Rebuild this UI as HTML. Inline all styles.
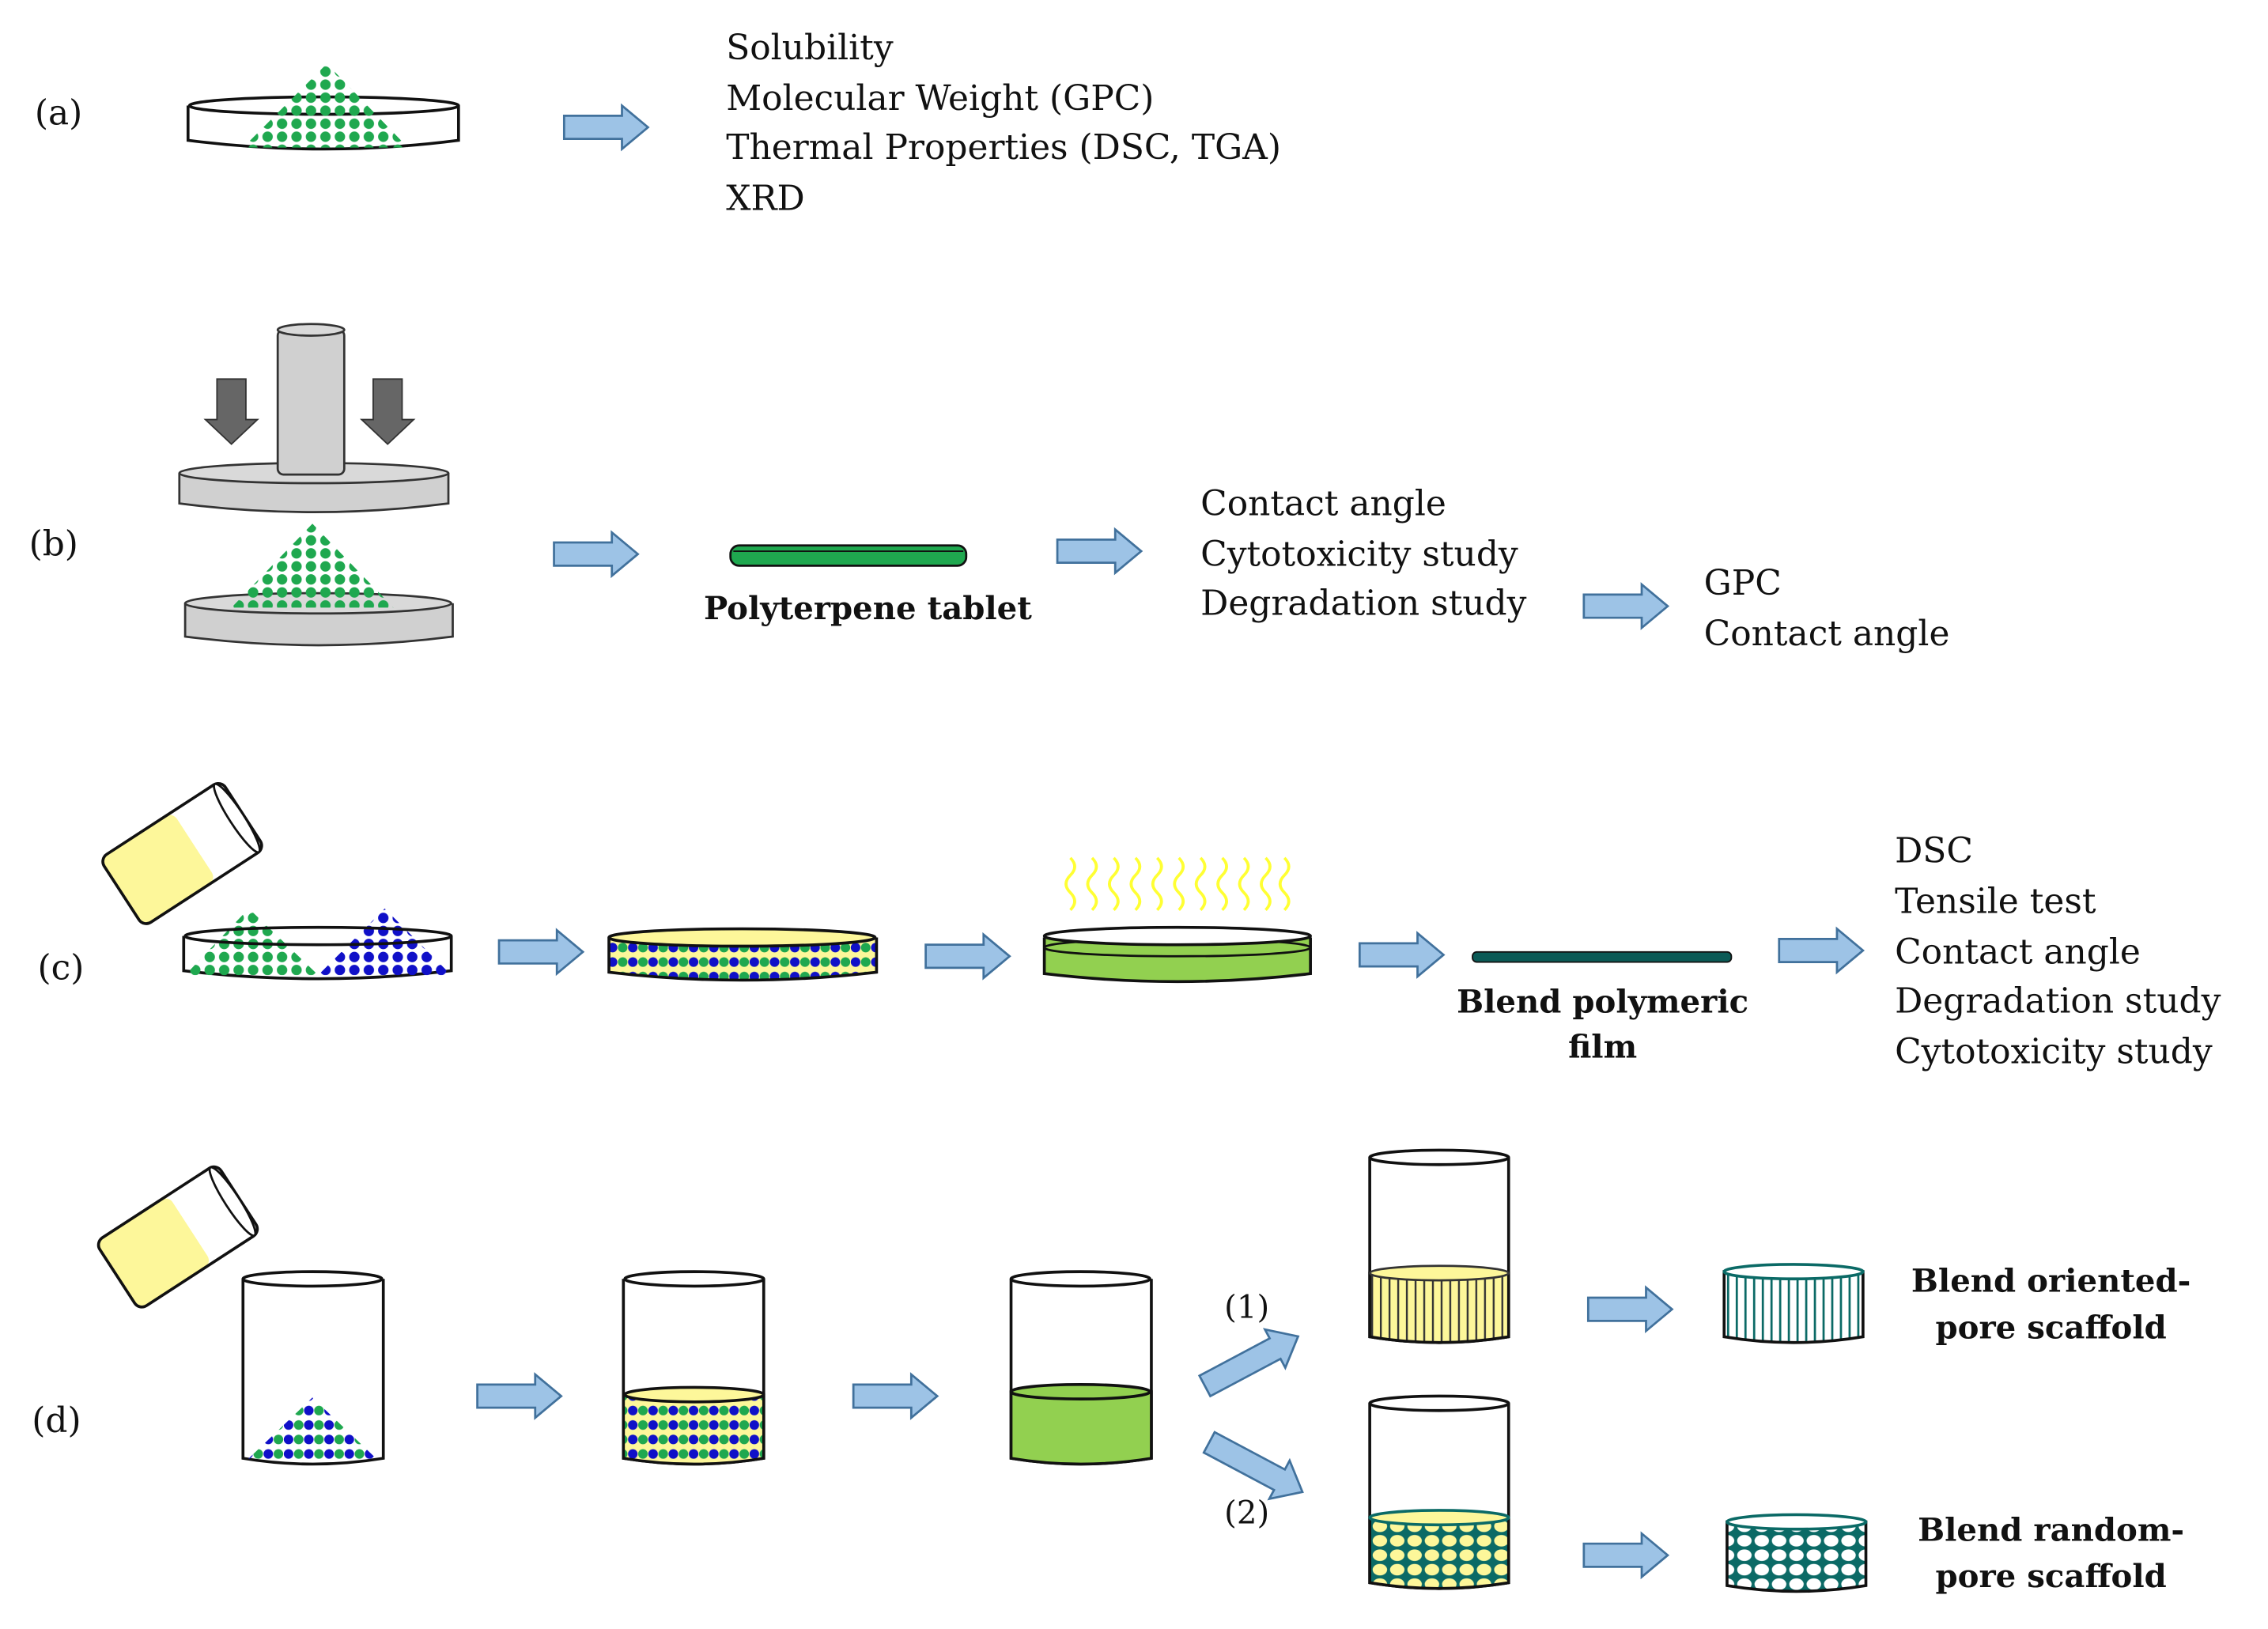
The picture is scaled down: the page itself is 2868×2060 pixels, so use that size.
<!DOCTYPE html>
<html><head><meta charset="utf-8"><style>
html,body{margin:0;padding:0;background:#fff}
svg{display:block}
text{font-family:"DejaVu Serif","Liberation Serif",serif;fill:#111}
.t{font-size:24px}
.b{font-size:22px;font-weight:bold}
.n{font-size:22px}
</style></head><body>
<svg width="2868" height="2060" viewBox="0 0 1568 1126" preserveAspectRatio="none" xmlns="http://www.w3.org/2000/svg">
<defs>
<pattern id="gd" width="10" height="9" patternUnits="userSpaceOnUse"><circle cx="5" cy="4.5" r="3.6" fill="#1fa84f"/></pattern>
<pattern id="bd" width="10" height="9" patternUnits="userSpaceOnUse"><circle cx="5" cy="4.5" r="3.6" fill="#1010c8"/></pattern>
<pattern id="mix" width="14" height="10" patternUnits="userSpaceOnUse"><rect width="14" height="10" fill="#fdf79a"/><circle cx="3.5" cy="5" r="3.3" fill="#1010c8"/><circle cx="10.5" cy="5" r="3.3" fill="#1fa84f"/></pattern>
<pattern id="mixd" width="14" height="10" patternUnits="userSpaceOnUse"><circle cx="3.5" cy="5" r="3.3" fill="#1010c8"/><circle cx="10.5" cy="5" r="3.3" fill="#1fa84f"/></pattern>
<pattern id="vl" width="6" height="10" patternUnits="userSpaceOnUse"><rect width="6" height="10" fill="#fdf79a"/><rect width="1.3" height="10" fill="#333"/></pattern>
<pattern id="vt" width="6" height="10" patternUnits="userSpaceOnUse"><rect width="6" height="10" fill="#fff"/><rect width="1.5" height="10" fill="#0b6a66"/></pattern>
<pattern id="cl" width="12" height="10" patternUnits="userSpaceOnUse"><rect width="12" height="10" fill="#0b6a66"/><ellipse cx="6" cy="5" rx="5" ry="4" fill="#fdf79a"/></pattern>
<pattern id="cw" width="12" height="10" patternUnits="userSpaceOnUse"><rect width="12" height="10" fill="#0b6a66"/><ellipse cx="6" cy="5" rx="5" ry="4" fill="#fff"/></pattern>
<g id="arr"><polygon points="0,-8 40,-8 40,-15 58,0 40,15 40,8 0,8" fill="#9dc3e6" stroke="#41719c" stroke-width="1.5"/></g>
<g id="arrl"><polygon points="0,-8 55,-8 55,-15 73,0 55,15 55,8 0,8" fill="#9dc3e6" stroke="#41719c" stroke-width="1.5"/></g>
</defs>

<!-- (a) -->
<text class="t" x="24" y="86">(a)</text>
<path d="M130,73 L130,97 Q224,109 317,97 L317,73" fill="#fff" stroke="#111" stroke-width="2"/>
<ellipse cx="224" cy="73" rx="93" ry="6" fill="#fff" stroke="#111" stroke-width="2"/>
<polygon points="226,44 282,102 168,102" fill="url(#gd)"/>
<use href="#arr" transform="translate(390,88)"/>
<text class="t" x="502" y="41">Solubility</text>
<text class="t" x="502" y="76">Molecular Weight (GPC)</text>
<text class="t" x="502" y="110">Thermal Properties (DSC, TGA)</text>
<text class="t" x="502" y="145">XRD</text>

<!-- (b) -->
<text class="t" x="20" y="384">(b)</text>
<polygon points="150,262 170,262 170,290 178,290 160,307 142,290 150,290" fill="#666" stroke="#333"/>
<polygon points="258,262 278,262 278,290 286,290 268,307 250,290 258,290" fill="#666" stroke="#333"/>
<path d="M124,327 L124,348 Q217,360 310,348 L310,327" fill="#d0d0d0" stroke="#333" stroke-width="1.5"/>
<ellipse cx="217" cy="327" rx="93" ry="7" fill="#d9d9d9" stroke="#333" stroke-width="1.5"/>
<rect x="192" y="228" width="46" height="100" rx="4" fill="#d0d0d0" stroke="#333" stroke-width="1.5"/>
<ellipse cx="215" cy="228" rx="23" ry="4" fill="#d9d9d9" stroke="#333" stroke-width="1.5"/>
<path d="M128,417 L128,440 Q220,452 313,440 L313,417" fill="#d0d0d0" stroke="#333" stroke-width="1.5"/>
<ellipse cx="220" cy="417" rx="92" ry="7" fill="#d9d9d9" stroke="#333" stroke-width="1.5"/>
<polygon points="216,362 272,420 160,420" fill="url(#gd)"/>
<use href="#arr" transform="translate(383,383)"/>
<rect x="505" y="377" width="163" height="14" rx="6" fill="#1fa84f" stroke="#111" stroke-width="1.5"/>
<line x1="507" y1="381" x2="666" y2="381" stroke="#111" stroke-width="1"/>
<text class="b" x="600" y="428" text-anchor="middle">Polyterpene tablet</text>
<use href="#arr" transform="translate(731,381)"/>
<text class="t" x="830" y="356">Contact angle</text>
<text class="t" x="830" y="391">Cytotoxicity study</text>
<text class="t" x="830" y="425">Degradation study</text>
<use href="#arr" transform="translate(1095,419)"/>
<text class="t" x="1178" y="411">GPC</text>
<text class="t" x="1178" y="446">Contact angle</text>

<!-- (c) -->
<text class="t" x="26" y="677">(c)</text>
<g transform="translate(126,590) rotate(-33)">
<rect x="-50" y="-28" width="100" height="56" rx="6" fill="#fff"/>
<rect x="-50" y="-28" width="60" height="56" rx="6" fill="#fdf79a"/>
<rect x="-50" y="-28" width="100" height="56" rx="6" fill="none" stroke="#111" stroke-width="2"/>
<ellipse cx="45" cy="0" rx="5" ry="28" fill="#fff" stroke="#111" stroke-width="1.5"/>
</g>
<path d="M127,647 L127,671 Q220,682 312,671 L312,647" fill="#fff" stroke="#111" stroke-width="2"/>
<polygon points="172,628 220,674 128,674" fill="url(#gd)"/>
<polygon points="266,628 312,674 220,674" fill="url(#bd)"/>
<ellipse cx="220" cy="647" rx="92" ry="6" fill="none" stroke="#111" stroke-width="2"/>
<use href="#arr" transform="translate(345,658)"/>
<path d="M421,648 L421,672 Q513,683 606,672 L606,648" fill="url(#mix)" stroke="#111" stroke-width="2"/>
<ellipse cx="513" cy="648" rx="92" ry="6" fill="#fdf79a" stroke="#111" stroke-width="2"/>
<use href="#arr" transform="translate(640,661)"/>
<path d="M722,648 L722,673 Q814,684 906,673 L906,648" fill="#92d050" stroke="#111" stroke-width="2"/>
<ellipse cx="814" cy="655" rx="92" ry="6" fill="#92d050" stroke="#111" stroke-width="1.5"/>
<ellipse cx="814" cy="647" rx="92" ry="6" fill="#fff" stroke="#111" stroke-width="2"/>
<g stroke="#ffff33" stroke-width="2" fill="none">
<path d="M740,593 q6,6 0,12 q-6,6 0,12 q6,6 0,12"/><path d="M755,593 q6,6 0,12 q-6,6 0,12 q6,6 0,12"/><path d="M770,593 q6,6 0,12 q-6,6 0,12 q6,6 0,12"/><path d="M785,593 q6,6 0,12 q-6,6 0,12 q6,6 0,12"/><path d="M800,593 q6,6 0,12 q-6,6 0,12 q6,6 0,12"/><path d="M815,593 q6,6 0,12 q-6,6 0,12 q6,6 0,12"/><path d="M830,593 q6,6 0,12 q-6,6 0,12 q6,6 0,12"/><path d="M845,593 q6,6 0,12 q-6,6 0,12 q6,6 0,12"/><path d="M860,593 q6,6 0,12 q-6,6 0,12 q6,6 0,12"/><path d="M875,593 q6,6 0,12 q-6,6 0,12 q6,6 0,12"/><path d="M888,593 q6,6 0,12 q-6,6 0,12 q6,6 0,12"/>
</g>
<use href="#arr" transform="translate(940,660)"/>
<rect x="1018" y="658" width="179" height="7" rx="3" fill="#0b5a56" stroke="#111" stroke-width="1"/>
<text class="b" x="1108" y="700" text-anchor="middle">Blend polymeric</text>
<text class="b" x="1108" y="731" text-anchor="middle">film</text>
<use href="#arr" transform="translate(1230,657)"/>
<text class="t" x="1310" y="596">DSC</text>
<text class="t" x="1310" y="631">Tensile test</text>
<text class="t" x="1310" y="666">Contact angle</text>
<text class="t" x="1310" y="700">Degradation study</text>
<text class="t" x="1310" y="735">Cytotoxicity study</text>

<!-- (d) -->
<text class="t" x="22" y="990">(d)</text>
<g transform="translate(123,855) rotate(-33)">
<rect x="-50" y="-28" width="100" height="56" rx="6" fill="#fff"/>
<rect x="-50" y="-28" width="60" height="56" rx="6" fill="#fdf79a"/>
<rect x="-50" y="-28" width="100" height="56" rx="6" fill="none" stroke="#111" stroke-width="2"/>
<ellipse cx="45" cy="0" rx="5" ry="28" fill="#fff" stroke="#111" stroke-width="1.5"/>
</g>
<path d="M168,884 L168,1008 Q216,1016 265,1008 L265,884" fill="#fff" stroke="#111" stroke-width="2"/>
<polygon points="216,966 262,1010 170,1010" fill="url(#mixd)"/>
<ellipse cx="216" cy="884" rx="48" ry="5" fill="#fff" stroke="#111" stroke-width="2"/>
<use href="#arr" transform="translate(330,965)"/>
<path d="M431,884 L431,1008 Q480,1016 528,1008 L528,884" fill="#fff" stroke="#111" stroke-width="2"/>
<path d="M431,964 L431,1008 Q480,1016 528,1008 L528,964 Z" fill="url(#mix)" stroke="#111" stroke-width="2"/>
<ellipse cx="480" cy="964" rx="48" ry="5" fill="#fdf79a" stroke="#111" stroke-width="2"/>
<ellipse cx="480" cy="884" rx="48" ry="5" fill="#fff" stroke="#111" stroke-width="2"/>
<use href="#arr" transform="translate(590,965)"/>
<path d="M699,884 L699,1008 Q747,1016 796,1008 L796,884" fill="#fff" stroke="#111" stroke-width="2"/>
<path d="M699,962 L699,1008 Q747,1016 796,1008 L796,962 Z" fill="#92d050" stroke="#111" stroke-width="2"/>
<ellipse cx="747" cy="962" rx="48" ry="5" fill="#92d050" stroke="#111" stroke-width="2"/>
<ellipse cx="747" cy="884" rx="48" ry="5" fill="#fff" stroke="#111" stroke-width="2"/>
<use href="#arrl" transform="translate(833,958) rotate(-28)"/>
<use href="#arrl" transform="translate(836,997) rotate(28)"/>
<text class="n" x="862" y="911" text-anchor="middle">(1)</text>
<text class="n" x="862" y="1053" text-anchor="middle">(2)</text>
<path d="M947,800 L947,924 Q995,932 1043,924 L1043,800" fill="#fff" stroke="#111" stroke-width="2"/>
<path d="M947,880 L947,924 Q995,932 1043,924 L1043,880 Z" fill="url(#vl)" stroke="#111" stroke-width="2"/>
<ellipse cx="995" cy="880" rx="48" ry="5" fill="#fdf79a" stroke="#333" stroke-width="1.5"/>
<ellipse cx="995" cy="800" rx="48" ry="5" fill="#fff" stroke="#111" stroke-width="2"/>
<path d="M947,970 L947,1094 Q995,1102 1043,1094 L1043,970" fill="#fff" stroke="#111" stroke-width="2"/>
<path d="M947,1049 L947,1094 Q995,1102 1043,1094 L1043,1049 Z" fill="url(#cl)" stroke="#111" stroke-width="2"/>
<ellipse cx="995" cy="1049" rx="48" ry="5" fill="#fdf79a" stroke="#0b6a66" stroke-width="2"/>
<ellipse cx="995" cy="970" rx="48" ry="5" fill="#fff" stroke="#111" stroke-width="2"/>
<use href="#arr" transform="translate(1098,905)"/>
<use href="#arr" transform="translate(1095,1075)"/>
<path d="M1192,879 L1192,924 Q1240,932 1288,924 L1288,879 Z" fill="url(#vt)" stroke="#111" stroke-width="2"/>
<ellipse cx="1240" cy="879" rx="48" ry="5" fill="#fff" stroke="#0b6a66" stroke-width="2"/>
<path d="M1194,1052 L1194,1096 Q1242,1104 1290,1096 L1290,1052 Z" fill="url(#cw)" stroke="#111" stroke-width="2"/>
<ellipse cx="1242" cy="1052" rx="48" ry="5" fill="#fff" stroke="#0b6a66" stroke-width="2"/>
<text class="b" x="1418" y="893" text-anchor="middle">Blend oriented-</text>
<text class="b" x="1418" y="925" text-anchor="middle">pore scaffold</text>
<text class="b" x="1418" y="1065" text-anchor="middle">Blend random-</text>
<text class="b" x="1418" y="1097" text-anchor="middle">pore scaffold</text>
</svg>
</body></html>
